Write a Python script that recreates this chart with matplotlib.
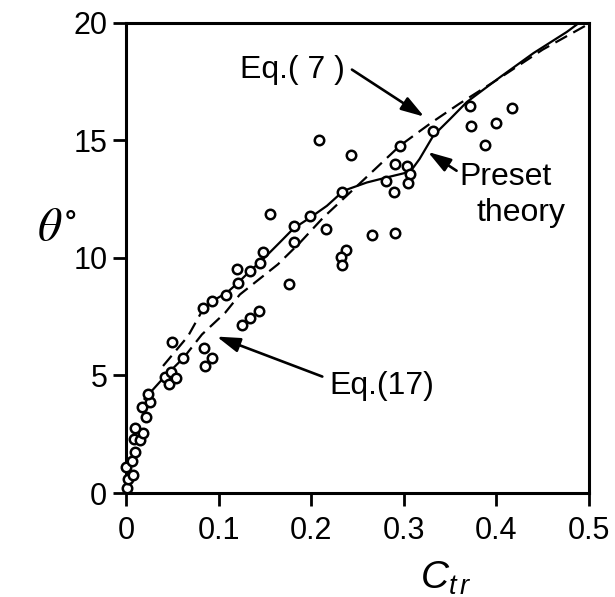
import matplotlib
matplotlib.use("Agg")
import matplotlib.pyplot as plt

# measured points: C_tr vs theta (deg)
c_obs = [0.001, 0.002, 0.008, 0.000, 0.007, 0.010, 0.009, 0.015, 0.018, 0.010,
         0.022, 0.017, 0.026, 0.024, 0.042, 0.046, 0.049, 0.054, 0.062, 0.050,
         0.084, 0.085, 0.093, 0.083, 0.093, 0.108, 0.121, 0.120, 0.134, 0.145,
         0.148, 0.156, 0.125, 0.134, 0.144, 0.176, 0.181, 0.181, 0.199, 0.216,
         0.233, 0.208, 0.243, 0.266, 0.238, 0.232, 0.233, 0.290, 0.296, 0.290,
         0.303, 0.281, 0.307, 0.304, 0.289, 0.331, 0.371, 0.373, 0.388, 0.400,
         0.417]
theta_obs = [0.2, 0.6, 0.75, 1.1, 1.35, 1.75, 2.3, 2.25, 2.55, 2.75,
             3.25, 3.65, 3.85, 4.2, 4.95, 4.65, 5.13, 4.89, 5.74, 6.4,
             6.15, 5.39, 5.72, 7.85, 8.18, 8.42, 8.91, 9.54, 9.44, 9.79,
             10.25, 11.88, 7.16, 7.45, 7.73, 8.90, 10.65, 11.36, 11.79, 11.24,
             12.81, 15.02, 14.37, 10.96, 10.32, 10.05, 9.68, 11.04, 14.77, 13.99,
             13.89, 13.25, 13.55, 13.16, 12.78, 15.38, 16.45, 15.62, 14.80, 15.74,
             16.36]

# preset theory (solid) and its dashed start at small C
c_preset = [0.083, 0.095, 0.109, 0.121, 0.134, 0.148, 0.166, 0.181, 0.199, 0.217,
            0.235, 0.260, 0.282, 0.307, 0.317, 0.332, 0.350, 0.368, 0.404, 0.440,
            0.476, 0.500]
theta_preset = [7.80, 8.20, 8.52, 8.94, 9.44, 9.94, 10.65, 11.25, 11.71, 12.21,
                12.85, 13.20, 13.42, 13.66, 14.20, 15.20, 15.90, 16.62, 17.68, 18.70,
                19.60, 20.30]
c_preset_lo = [0.040, 0.067, 0.083]
theta_preset_lo = [5.40, 6.67, 7.80]

# equation curve: short solid start, then dashed
c_eq_lo = [0.020, 0.042, 0.062]
theta_eq_lo = [4.00, 4.96, 5.74]
c_eq = [0.062, 0.082, 0.107, 0.123, 0.164, 0.188, 0.213, 0.250, 0.296, 0.330,
        0.360, 0.400, 0.450, 0.500]
theta_eq = [5.74, 6.74, 7.66, 8.44, 9.72, 10.65, 11.71, 13.07, 14.77, 15.75,
            16.55, 17.55, 18.85, 19.95]

xticks = [0, 0.1, 0.2, 0.3, 0.4, 0.5]
xticklabels = ["0", "0.1", "0.2", "0.3", "0.4", "0.5"]
yticks = [0, 5, 10, 15, 20]

plt.rcParams["font.family"] = ["Liberation Sans", "DejaVu Sans"]
plt.rcParams["mathtext.fontset"] = "custom"
plt.rcParams["mathtext.it"] = "Liberation Sans:italic"
plt.rcParams["mathtext.rm"] = "Liberation Sans"

fig = plt.figure(figsize=(6.15, 5.97), dpi=100)
fig.patch.set_facecolor("white")
ax = fig.add_axes([0.2049, 0.1742, 0.7528, 0.788])

lw = 1.6
dash = (6, 3.2)
ax.plot(c_preset, theta_preset, color="black", lw=lw)
ax.plot(c_preset_lo, theta_preset_lo, color="black", lw=lw, dashes=dash)
ax.plot(c_eq_lo, theta_eq_lo, color="black", lw=lw)
ax.plot(c_eq, theta_eq, color="black", lw=lw, dashes=dash)

ax.plot(c_obs, theta_obs, "o", mfc="white", mec="black", ms=6.8, mew=1.8,
        clip_on=False, zorder=3)

ax.set_xlim(0, 0.5)
ax.set_ylim(0, 20)
ax.set_xticks(xticks)
ax.set_xticklabels(xticklabels)
ax.set_yticks(yticks)
ax.tick_params(direction="out", length=9.5, width=2, labelsize=22)
ax.tick_params(axis="x", pad=7)
ax.tick_params(axis="y", pad=4)
for s in ax.spines.values():
    s.set_linewidth(2.2)

arrow = dict(arrowstyle="-|>,head_length=0.7,head_width=0.22", color="black",
             lw=1.9, mutation_scale=20, shrinkA=0, shrinkB=0)
ax.annotate("", xy=(0.322, 16.0), xytext=(0.244, 18.0), arrowprops=arrow)
ax.text(0.180, 18.0, "Eq.( 7 )", fontsize=23, ha="center", va="center")

ax.annotate("", xy=(0.098, 6.65), xytext=(0.212, 4.95), arrowprops=arrow)
ax.text(0.220, 4.55, "Eq.(17)", fontsize=23, ha="left", va="center")

ax.annotate("", xy=(0.326, 14.5), xytext=(0.357, 13.7), arrowprops=arrow)
ax.text(0.360, 13.45, "Preset", fontsize=23, ha="left", va="center")
ax.text(0.378, 11.9, "theory", fontsize=23, ha="left", va="center")

fig.text(57 / 615, 1 - 228 / 597, r"$\theta^{\circ}$", fontsize=34,
         math_fontfamily="stix", ha="center", va="center")
fig.text(420 / 615, 1 - 578 / 597, r"$C_{t\,r}$", fontsize=28, ha="left",
         va="center")

fig.savefig("out.png", dpi=100)
